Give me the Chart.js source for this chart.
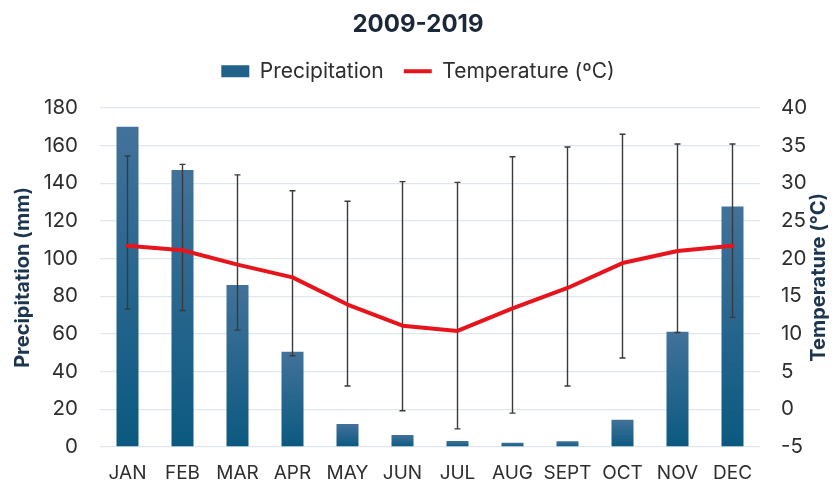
<!DOCTYPE html>
<html>
<head>
<meta charset="utf-8">
<script src="https://cdn.jsdelivr.net/npm/chart.js@4"></script>
<style>
  html, body { margin: 0; padding: 0; background: #fff; }
  #wrap { width: 836px; height: 486px; position: relative; }
</style>
</head>
<body>
<div id="wrap"><canvas id="clima"></canvas></div>
<script>
/* ---- datos mensuales 2009-2019 ---- */
const meses    = ['JAN','FEB','MAR','APR','MAY','JUN','JUL','AUG','SEPT','OCT','NOV','DEC'];
const precip   = [170, 147, 86, 50.5, 12.2, 6.4, 3.2, 2.3, 3, 14.5, 61.2, 127.6];
const tempMed  = [21.7, 21.1, 19.2, 17.5, 13.9, 11.1, 10.4, 13.4, 16.1, 19.4, 21.0, 21.7];
const tempMin  = [13.3, 13.1, 10.5, 7.1, 3.1, -0.2, -2.6, -0.5, 3.1, 6.8, 10.2, 12.2];
const tempMax  = [33.6, 32.5, 31.1, 29.0, 27.6, 30.2, 30.1, 33.5, 34.8, 36.5, 35.2, 35.2];
const ticksPrecip = {min: 0, max: 180, step: 20};
const ticksTemp   = {min: -5, max: 40, step: 5};

const FUENTE = 'Inter, "Noto Sans", sans-serif';
const azulTitulo = '#1d3650';
const grisTexto = '#2e2e2e';

/* degradado por barra: claro arriba, oscuro en la base */
function colorBarra(c){
  const ch = c.chart;
  if(!ch.chartArea || c.type !== 'data') return '#2a6489';
  const y = ch.scales.y;
  const top = y.getPixelForValue(c.raw), base = y.getPixelForValue(0);
  const g = ch.ctx.createLinearGradient(0, top, 0, base);
  g.addColorStop(0, '#42729a');
  g.addColorStop(1, '#0b5980');
  return g;
}

/* barras de error (min / max de temperatura) sobre las columnas */
const errorBars = {
  id: 'errorBars',
  afterDatasetDraw(chart, args){
    if(args.index !== 0) return;
    const {ctx} = chart, x = chart.scales.x, y1 = chart.scales.y1;
    ctx.save();
    ctx.strokeStyle = '#3a3a3a';
    ctx.lineWidth = 1.4;
    meses.forEach((m, i) => {
      const px = x.getPixelForValue(i);
      const a = y1.getPixelForValue(tempMax[i]), b = y1.getPixelForValue(tempMin[i]);
      ctx.beginPath();
      ctx.moveTo(px, a); ctx.lineTo(px, b);
      ctx.moveTo(px - 3, a); ctx.lineTo(px + 3, a);
      ctx.moveTo(px - 3, b); ctx.lineTo(px + 3, b);
      ctx.stroke();
    });
    ctx.restore();
  }
};

/* título del eje derecho, leído de abajo hacia arriba */
const tituloDerecho = {
  id: 'tituloDerecho',
  afterDraw(chart){
    const {ctx, chartArea} = chart, s = chart.scales.y1;
    ctx.save();
    ctx.translate(s.right - 17, (chartArea.top + chartArea.bottom) / 2);
    ctx.rotate(-Math.PI / 2);
    ctx.font = 'bold 20px ' + FUENTE;
    ctx.fillStyle = azulTitulo;
    ctx.textAlign = 'center';
    ctx.textBaseline = 'middle';
    ctx.fillText('Temperature (°C)', 0, 0);
    ctx.restore();
  }
};

/* espacio extra bajo la leyenda */
const margenLeyenda = {
  id: 'margenLeyenda',
  beforeInit(chart){
    const fit = chart.legend.fit;
    chart.legend.fit = function(){ fit.call(this); this.height += 16; };
  }
};

new Chart(document.getElementById('clima'), {
  data: {
    labels: meses,
    datasets: [
      {type: 'bar', label: 'Precipitation', data: precip, yAxisID: 'y', order: 2,
       backgroundColor: colorBarra, borderWidth: 0, barPercentage: 0.4, categoryPercentage: 1},
      {type: 'line', label: 'Temperature (ºC)', data: tempMed, yAxisID: 'y1', order: 1,
       borderColor: '#e8141b', backgroundColor: '#e8141b', borderWidth: 4, tension: 0,
       pointRadius: 0, borderJoinStyle: 'round', borderCapStyle: 'round'}
    ]
  },
  options: {
    responsive: true, maintainAspectRatio: false, animation: false,
    layout: {padding: 0},
    plugins: {
      title: {display: true, text: '2009-2019', color: '#1a2838',
        font: {family: FUENTE, size: 24, weight: 'bold'}, padding: {top: 10, bottom: 2}},
      legend: {
        labels: {
          font: {family: FUENTE, size: 21}, color: grisTexto, padding: 20,
          usePointStyle: true, pointStyleWidth: 28, boxHeight: 12,
          sort: (a, b) => a.datasetIndex - b.datasetIndex,
          generateLabels(chart){
            const items = Chart.defaults.plugins.legend.labels.generateLabels(chart);
            items.forEach(it => {
              if(it.datasetIndex === 0){ it.pointStyle = 'rect'; it.fillStyle = '#22628a'; it.lineWidth = 0; }
              else { it.pointStyle = 'line'; it.strokeStyle = '#e8141b'; it.lineWidth = 4; }
            });
            return items;
          }
        }
      },
      tooltip: {enabled: false}
    },
    scales: {
      x: {
        grid: {display: false}, border: {display: false},
        ticks: {font: {family: FUENTE, size: 19}, color: grisTexto, padding: 7, maxRotation: 0, autoSkip: false},
        afterFit(s){ s.height = 39; }
      },
      y: {
        position: 'left', min: ticksPrecip.min, max: ticksPrecip.max,
        ticks: {stepSize: ticksPrecip.step, font: {family: FUENTE, size: 20.5}, color: grisTexto, padding: 22},
        grid: {color: '#dfe6ee', lineWidth: 1.3, drawTicks: false}, border: {display: false},
        title: {display: true, text: 'Precipitation (mm)', color: azulTitulo,
          font: {family: FUENTE, size: 20, weight: 'bold'}, padding: {top: 11, bottom: 0}},
        afterFit(s){ s.width = 100; }
      },
      y1: {
        position: 'right', min: ticksTemp.min, max: ticksTemp.max,
        ticks: {stepSize: ticksTemp.step, font: {family: FUENTE, size: 20.5}, color: grisTexto, padding: 21},
        grid: {display: false, drawTicks: false}, border: {display: false},
        afterFit(s){ s.width = 76; }
      }
    }
  },
  plugins: [errorBars, tituloDerecho, margenLeyenda]
});
</script>
</body>
</html>
